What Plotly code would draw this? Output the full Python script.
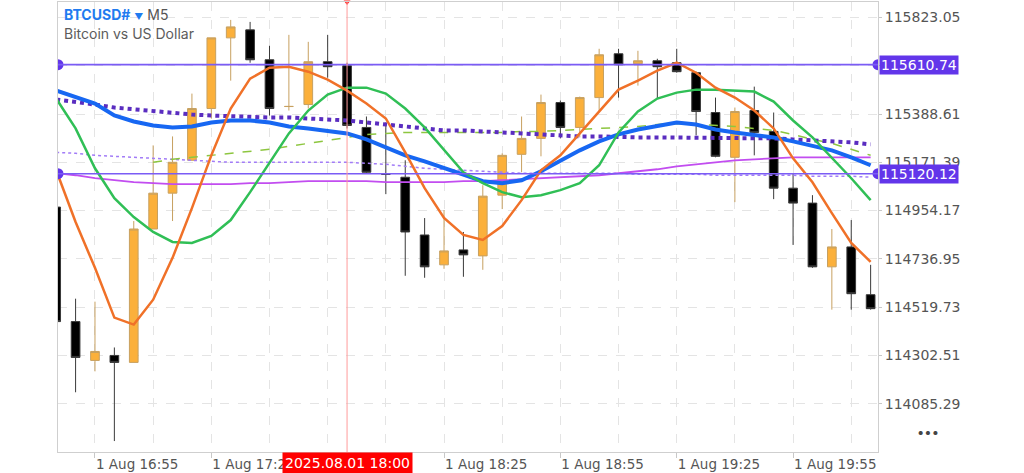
import plotly.graph_objects as go
import pandas as pd

# ---------------- data ----------------
times = pd.date_range("2025-08-01 16:45", "2025-08-01 20:15", freq="5min")

open_ = [114969.9, 114454.8, 114280.1, 114302.5, 114271.2, 114871.3, 115032.6, 115180.4, 115413.3, 115731.2,
         115767.1, 115632.7, 115422.2, 115431.2, 115623.8, 115605.8, 115328.2, 115117.7, 115104.2, 114844.4,
         114710.1, 114777.3, 114750.4, 115023.6, 115207.2, 115278.9, 115440.1, 115328.2, 115462.5, 115659.6,
         115614.8, 115628.2, 115619.3, 115574.5, 115395.3, 115193.8, 115404.3, 115310.2, 115055.0, 114987.8,
         114701.1, 114790.7, 114575.7]
high = [115001.2, 114557.8, 114544.4, 114338.3, 114907.1, 115247.5, 115287.8, 115480.4, 115731.2, 115811.9,
        115802.9, 115695.4, 115744.7, 115713.3, 115744.7, 115619.3, 115377.4, 115350.5, 115180.4, 114920.6,
        114956.4, 114857.9, 115068.4, 115211.7, 115377.4, 115476.0, 115449.1, 115467.0, 115682.0, 115682.0,
        115673.0, 115637.2, 115682.0, 115579.0, 115462.5, 115417.7, 115511.8, 115395.3, 115122.1, 115023.6,
        114871.3, 114911.6, 114710.1]
low = [114419.0, 114136.8, 114230.9, 113917.3, 114271.2, 114871.3, 114907.1, 115180.4, 115368.5, 115538.7,
       115619.3, 115381.9, 115404.3, 115413.3, 115552.1, 115323.7, 115122.1, 115028.1, 114660.8, 114651.9,
       114692.2, 114656.3, 114687.7, 114960.9, 115126.6, 115198.3, 115278.9, 115283.4, 115399.8, 115462.5,
       115516.3, 115458.0, 115574.5, 115292.3, 115193.8, 114992.2, 115202.7, 115005.7, 114799.7, 114696.6,
       114508.5, 114508.5, 114508.5]
close = [114454.8, 114293.6, 114320.4, 114271.2, 114871.3, 115032.6, 115171.4, 115413.3, 115731.2, 115780.5,
         115632.7, 115413.3, 115422.7, 115623.8, 115601.4, 115337.1, 115126.6, 115117.2, 114857.9, 114701.1,
         114772.8, 114754.9, 115019.1, 115202.7, 115278.9, 115440.1, 115328.2, 115462.5, 115655.1, 115610.3,
         115628.2, 115601.4, 115579.0, 115399.8, 115198.3, 115399.8, 115305.8, 115055.0, 114987.8, 114701.1,
         114790.7, 114580.2, 114513.0]

ma_blue = [115493.9, 115467.0, 115435.6, 115381.9, 115355.0, 115337.1, 115328.2, 115332.6, 115350.5, 115359.5,
           115359.5, 115350.5, 115332.6, 115323.7, 115314.7, 115301.3, 115274.4, 115238.6, 115202.7, 115175.9,
           115144.5, 115113.2, 115086.3, 115077.3, 115090.8, 115131.1, 115180.4, 115225.1, 115265.5, 115296.8,
           115319.2, 115337.1, 115350.5, 115341.6, 115319.2, 115305.8, 115296.8, 115283.4, 115265.5, 115247.5,
           115225.1, 115193.8, 115158.0]
ma_purple_dot = [115453.6, 115444.6, 115431.2, 115417.7, 115408.8, 115399.8, 115395.3, 115386.4, 115381.9, 115377.4,
                 115377.4, 115372.9, 115372.9, 115368.5, 115364.0, 115359.5, 115350.5, 115341.6, 115332.6, 115323.7,
                 115314.7, 115314.7, 115310.2, 115305.8, 115301.3, 115296.8, 115292.3, 115287.8, 115287.8, 115283.4,
                 115283.4, 115283.4, 115283.4, 115283.4, 115283.4, 115283.4, 115283.4, 115278.9, 115274.4, 115269.9,
                 115265.5, 115261.0, 115252.0]
ma_green_dash = [None, None, None, None, None,
                 115171.4, 115184.8, 115193.8, 115202.7, 115211.7, 115220.7, 115229.6, 115243.1, 115256.5, 115269.9,
                 115283.4, 115296.8, 115301.3, 115305.8, 115305.8, 115305.8, 115305.8, 115305.8, 115305.8, 115310.2,
                 115310.2, 115314.7, 115319.2, 115323.7, 115328.2, 115332.6, 115341.6, 115346.1, 115341.6, 115337.1,
                 115332.6, 115323.7, 115314.7, 115296.8, 115274.4, 115256.5, 115229.6, 115202.7]
ma_lavender_dot = [115216.2, 115211.7, 115202.7, 115198.3, 115193.8, 115189.3, 115184.8, 115180.4, 115175.9, 115171.4,
                   115171.4, 115171.4, 115171.4, 115171.4, 115171.4, 115171.4, 115166.9, 115162.4, 115153.5, 115144.5,
                   115140.0, 115135.6, 115131.1, 115126.6, 115122.1, 115122.1, 115122.1, 115122.1, 115122.1, 115122.1,
                   115117.7, 115117.7, 115117.7, 115117.7, 115113.2, 115113.2, 115113.2, 115113.2, 115113.2, 115108.7,
                   115108.7, 115108.7, 115104.2]
ma_magenta = [115122.1, 115113.2, 115099.7, 115090.8, 115081.8, 115077.3, 115072.9, 115072.9, 115072.9, 115072.9,
              115077.3, 115077.3, 115081.8, 115086.3, 115086.3, 115086.3, 115086.3, 115081.8, 115081.8, 115081.8,
              115081.8, 115086.3, 115086.3, 115090.8, 115095.3, 115099.7, 115104.2, 115108.7, 115113.2, 115122.1,
              115131.1, 115140.0, 115153.5, 115162.4, 115171.4, 115180.4, 115184.8, 115189.3, 115193.8, 115193.8,
              115193.8, 115193.8, 115193.8]
ma_orange = [115135.6, 114902.7, 114696.6, 114472.7, 114441.4, 114553.3, 114741.4, 114965.4, 115202.7, 115413.3,
             115547.6, 115596.9, 115601.4, 115579.0, 115543.1, 115493.9, 115435.6, 115368.5, 115216.2, 115055.0,
             114920.6, 114844.4, 114822.1, 114884.8, 115001.2, 115135.6, 115202.7, 115301.3, 115395.3, 115498.3,
             115538.7, 115583.4, 115619.3, 115574.5, 115507.3, 115462.5, 115404.3, 115323.7, 115189.3, 115081.8,
             114943.0, 114808.6, 114723.5]
ma_green = [115458.0, 115323.7, 115144.5, 115010.2, 114925.1, 114857.9, 114813.1, 114808.6, 114840.0, 114911.6,
            115037.0, 115166.9, 115301.3, 115404.3, 115476.0, 115507.3, 115507.3, 115480.4, 115413.3, 115328.2,
            115225.1, 115126.6, 115077.3, 115037.0, 115014.6, 115023.6, 115046.0, 115077.3, 115158.0, 115305.8,
            115399.8, 115458.0, 115484.9, 115498.3, 115498.3, 115493.9, 115489.4, 115444.6, 115359.5, 115283.4,
            115193.8, 115099.7, 115001.2]

levels = [115610.74, 115120.12]
y_ticks = [114085.29, 114302.51, 114519.73, 114736.95, 114954.17, 115171.39, 115388.61, 115605.83, 115823.05]
y_tick_text = ["114085.29", "114302.51", "114519.73", "114736.95", "114954.17", "115171.39", "115388.61", "", "115823.05"]
x_label_times = ["2025-08-01 16:55", "2025-08-01 17:25", "2025-08-01 17:55", "2025-08-01 18:25",
                 "2025-08-01 18:55", "2025-08-01 19:25", "2025-08-01 19:55"]
x_labels = ["1 Aug 16:55", "1 Aug 17:25", "1 Aug 17:55", "1 Aug 18:25", "1 Aug 18:55", "1 Aug 19:25", "1 Aug 19:55"]
x_minor_times = ["2025-08-01 16:40", "2025-08-01 17:10", "2025-08-01 17:40", "2025-08-01 18:10",
                 "2025-08-01 18:40", "2025-08-01 19:10", "2025-08-01 19:40", "2025-08-01 20:10"]
cross_time = "2025-08-01 18:00"
cross_label = "2025.08.01 18:00"
x_range = ["2025-08-01 16:45:28", "2025-08-01 20:16:54"]
y_range = [113868.1, 115892.5]

FONT = "Inter"
AXFONT = "DejaVu Sans"

fig = go.Figure()

fig.add_trace(go.Candlestick(
    x=times, open=open_, high=high, low=low, close=close,
    increasing=dict(fillcolor="#FBB03B", line=dict(color="#C7A060", width=1)),
    decreasing=dict(fillcolor="#000000", line=dict(color="#3a3a3a", width=1)),
    whiskerwidth=0, hoverinfo="skip", showlegend=False,
))

def line(y, color, width, dash="solid"):
    fig.add_trace(go.Scatter(x=times, y=y, mode="lines", line=dict(color=color, width=width, dash=dash),
                             hoverinfo="skip", showlegend=False, connectgaps=False))

line(ma_lavender_dot, "#a27cf7", 1.5, "dot")
line(ma_green_dash, "#8dc63f", 1.5, "dash")
line(ma_magenta, "#c24df0", 1.8)
line(ma_purple_dot, "#5a2dc0", 4, "dot")
line(ma_blue, "#1767f2", 4)
line(ma_green, "#30bf56", 2.5)
line(ma_orange, "#f07128", 2.5)

# horizontal levels
for lv in levels:
    fig.add_hline(y=lv, line=dict(color="#7b5cf5", width=1.6), layer="above")
    fig.add_trace(go.Scatter(x=[x_range[0], x_range[1]], y=[lv, lv], mode="markers",
                             marker=dict(color="#6236ea", size=11), cliponaxis=True,
                             hoverinfo="skip", showlegend=False))
    fig.add_annotation(x=1, xref="paper", y=lv, yref="y", xanchor="left", yanchor="middle",
                       text=f"{lv:.2f}", showarrow=False, bgcolor="#6236ea", borderpad=1,
                       font=dict(family=AXFONT, size=14, color="white"), xshift=1)

# crosshair
fig.add_vline(x=pd.Timestamp(cross_time).timestamp() * 1000, line=dict(color="#ff9b9b", width=1))
fig.add_trace(go.Scatter(x=[cross_time], y=[y_range[1]], mode="markers",
                         marker=dict(symbol="triangle-down", color="#ff2020", size=6), cliponaxis=False,
                         hoverinfo="skip", showlegend=False))
fig.add_annotation(x=cross_time, xref="x", y=0, yref="paper", yanchor="top", xanchor="center",
                   text=cross_label, showarrow=False, bgcolor="#ff0000", borderpad=2,
                   font=dict(family=AXFONT, size=14, color="white"))

# title texts
fig.add_annotation(x=0.005, y=0.972, xref="paper", yref="paper", xanchor="left", yanchor="middle",
                   showarrow=False,
                   text="<span style='color:#1f7bf0'><b>BTCUSD#</b></span> <span style='color:#1f7bf0;font-size:9px'>▼</span> <span style='color:#555555'>M5</span>",
                   font=dict(family=FONT, size=14))
fig.add_annotation(x=0.005, y=0.931, xref="paper", yref="paper", xanchor="left", yanchor="middle",
                   showarrow=False, text="Bitcoin vs US Dollar",
                   font=dict(family=FONT, size=14, color="#5c5c5c"))
fig.add_annotation(x=1.061, y=0.044, xref="paper", yref="paper", xanchor="center", yanchor="middle",
                   showarrow=False, text="•••", font=dict(family=FONT, size=13, color="#444444"))

fig.update_layout(
    width=1024, height=473,
    margin=dict(l=58, r=146, t=1, b=20),
    paper_bgcolor="white", plot_bgcolor="white",
    boxgap=0.36,
    showlegend=False,
    font=dict(family=FONT, size=14, color="#555555"),
    xaxis=dict(
        type="date", range=x_range, rangeslider=dict(visible=False),
        tickmode="array", tickvals=x_label_times, ticktext=x_labels,
        ticklabelposition="outside right",
        ticks="outside", ticklen=5, tickcolor="#c8c8c8",
        showgrid=True, gridcolor="#e4e4e4", griddash="dash", gridwidth=1,
        minor=dict(tickmode="array", tickvals=x_minor_times, showgrid=True,
                   gridcolor="#e4e4e4", griddash="dash", ticks=""),
        showline=True, linecolor="#cfcfcf", linewidth=1, mirror=True,
        tickfont=dict(family=AXFONT, size=13.5, color="#555555"),
        zeroline=False, fixedrange=True,
    ),
    yaxis=dict(
        side="right", range=y_range,
        tickmode="array", tickvals=y_ticks, ticktext=y_tick_text,
        ticks="outside", ticklen=3, tickcolor="#c8c8c8",
        showgrid=True, gridcolor="#e4e4e4", griddash="dash", gridwidth=1,
        showline=True, linecolor="#cfcfcf", linewidth=1, mirror=True,
        tickfont=dict(family=AXFONT, size=14, color="#555555"),
        zeroline=False, fixedrange=True,
    ),
)

fig.write_html("out.html", config={"displayModeBar": False},
               post_script="document.body.style.margin='0px';")
